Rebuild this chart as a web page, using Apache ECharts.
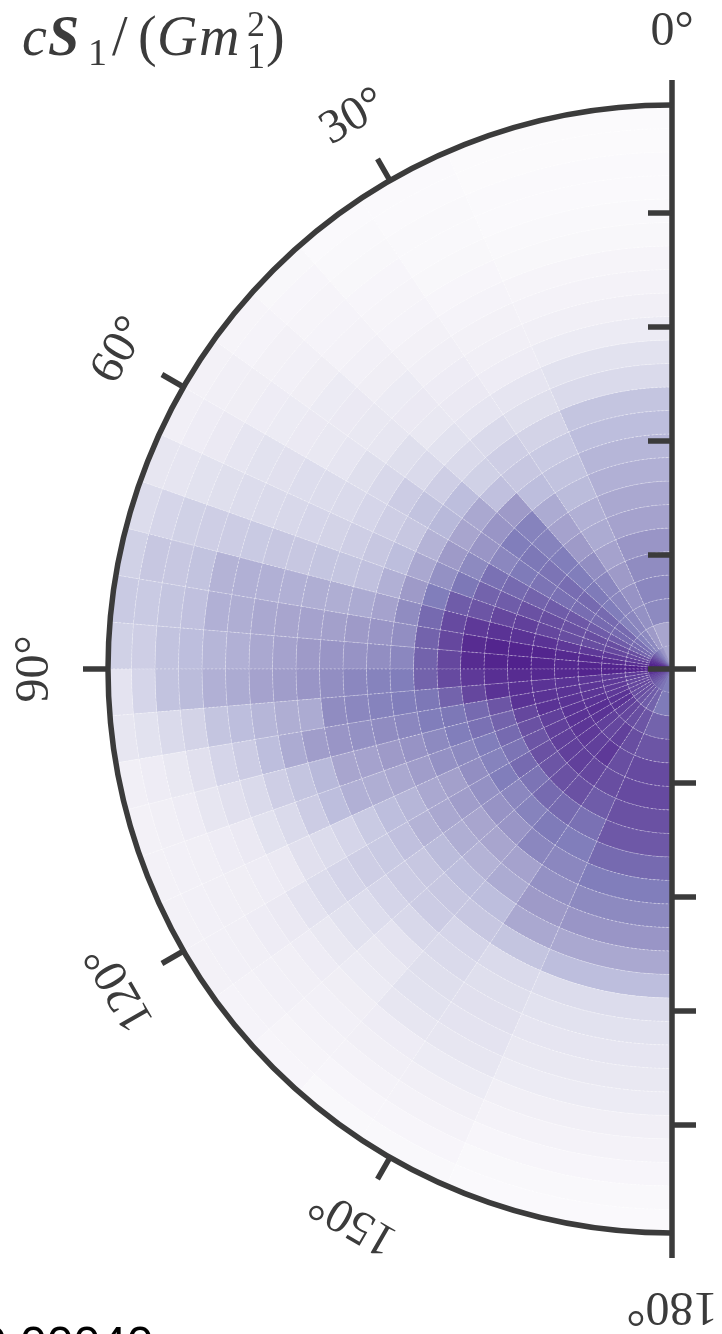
<!DOCTYPE html>
<html>
<head>
<meta charset="utf-8">
<style>html,body{margin:0;padding:0;background:#fff;overflow:hidden}#c{width:722px;height:1334px}</style>
<script src="https://cdn.jsdelivr.net/npm/echarts@6/dist/echarts.min.js"></script>
</head>
<body>
<div id="c"></div>
<script>
// polar angle bin edges, degrees
const angleEdges = [0,23.56,33.56,41.41,48.19,54.31,60,65.38,70.53,75.52,80.41,85.22,90,94.78,99.59,104.48,109.47,114.62,120,125.69,131.81,138.59,146.44,156.44,180];
const ringCount = 24;
const radiusMax = 4.95;
const angleTicks = [0,30,60,90,120,150,180];
const radiusTicks = [0,1,2,3,4];
const purples = ['#fcfbfd','#efedf5','#dadaeb','#bcbddc','#9e9ac8','#807dba','#6a51a3','#54278f','#3f007d'];
// one list per angular bin, inner ring first (colour-scale position 0..100)
const w00 = [45,46,57,58,56,52,47,45,42,40,37,34,25,20,14,11,8,6,4,3,2,2,1,1];
const w01 = [52,50,54,53,50,47,44,42,38,35,32,28,22,18,13,11,9,7,5,4,3,3,2,1.5];
const w02 = [60,57,58,58,58,55,50,47,44,37,33,30,25,18,15,13,11,9,7,6,5,4,3,2];
const w03 = [66,60,60,62,63,62,62,60,60,50,36,29,25,20,16,15,14,12,10,8,7,6,5,4];
const w04 = [70,66,68,68,68,67,65,64,62,52,45,37,30,25,22,17,16,15,14,12,10,9,7,6];
const w05 = [74,68,68,68,67,66,65,63,58,52,46,39,35,31,26,22,18,16,15,14,13,12,11,9];
const w06 = [78,70,72,72,73,72,70,68,66,57,50,41,33,30,27,25,24,23,21,20,18,15,13,11];
const w07 = [82,76,76,76,75,76,75,72,70,64,54,45,37,33,30,28,27,26,25,24,22,20,18,17];
const w08 = [85,78,78,76,76,78,80,78,74,72,62,50,42,36,34,34,33,33,32,31,30,29,27,24];
const w09 = [88,82,82,82,82,84,84,84,82,77,68,56,47,44,43,43,42,42,42,41,35,33,33,29];
const w10 = [90,85,86,87,87,88,88,88,86,78,70,55,52,50,48,47,46,45,43,42,36,34,32,32];
const w11 = [97,90,88,88,87,88,89,88,86,78,70,58,55,53,52,50,47,45,42,40,37,35,30,29];
const w12 = [90,88,88,88,87,87,86,85,82,77,70,62,60,58,55,52,49,47,44,42,38,35,27,19];
const w13 = [88,82,82,83,84,84,85,84,78,70,64,62,60,58,56,44,43,40,37,34,28,25,20,17];
const w14 = [84,80,82,83,84,84,84,74,68,64,62,58,56,54,52,49,44,37,31,27,21,16,13,11];
const w15 = [80,78,82,83,84,84,78,70,66,62,57,53,50,47,46,39,34,30,25,21,17,13,11,9];
const w16 = [78,78,82,84,84,80,75,68,62,57,54,49,45,43,42,37,31,25,20,15,13,11,10,9];
const w17 = [76,78,84,85,84,80,74,65,60,55,48,45,40,37,32,27,24,21,15,13,12,11,10,9];
const w18 = [74,76,84,84,83,80,75,68,62,54,49,45,41,36,32,30,27,24,19,15,13,11,10,9];
const w19 = [72,76,80,80,82,80,74,65,58,53,46,43,38,33,31,27,23,20,16,13,11,10,8,7];
const w20 = [70,74,78,78,80,80,75,68,60,52,46,41,37,33,31,26,19,16,14,12,10,8,6,5];
const w21 = [68,72,76,80,82,78,75,68,63,58,47,44,37,33,27,25,22,20,17,13,11,8,5,3];
const w22 = [65,70,74,76,76,76,72,66,62,58,54,50,45,34,25,22,21,19,17,14,11,8,5,3];
const w23 = [62,63,70,74,77,77,75,73,68,62,57,52,45,37,24,20,18,16,14,11,8,5,3,2];
const angularBins = [w00,w01,w02,w03,w04,w05,w06,w07,w08,w09,w10,w11,w12,w13,w14,w15,w16,w17,w18,w19,w20,w21,w22,w23];

const cells = [];
angularBins.forEach((row, a) => row.forEach((v, k) => {
  cells.push([angleEdges[a], angleEdges[a + 1], k, v]);
}));
const tickLabels = angleTicks.map(t => [t, t + '°']);

const ink = '#3b3b3b';
const serif = '"Liberation Serif","DejaVu Serif",serif';
const labelRadius = 637 / 564 * radiusMax;
const CENTER = [672, 669], RADIUS = 564;

function piece(text, x, base, size, style) {
  return { type: 'text', x: x, y: base - 0.31 * size, z: 20,
    style: { text: text, fill: ink, font: (style || '') + ' ' + size + 'px ' + serif, verticalAlign: 'middle', textAlign: 'left' } };
}

const chart = echarts.init(document.getElementById('c'), null, { renderer: 'canvas' });
const axisStyle = { color: ink, width: 5.5, cap: 'butt' };
chart.setOption({
  animation: false,
  backgroundColor: '#fff',
  polar: [{ center: CENTER, radius: RADIUS }, { center: CENTER, radius: RADIUS }],
  angleAxis: [{
    polarIndex: 0, type: 'value', min: 0, max: 180, interval: 30,
    startAngle: 90, endAngle: 270, clockwise: false, z: 6,
    axisLine: { show: true, lineStyle: axisStyle },
    axisTick: { show: true, length: 25, lineStyle: axisStyle },
    axisLabel: { show: false }, splitLine: { show: false }, minorTick: { show: false }
  }, {
    polarIndex: 1, type: 'value', min: 0, max: 180, interval: 30,
    startAngle: 270, endAngle: 450, clockwise: true, z: 6,
    axisLine: { show: false }, axisTick: { show: false }, axisLabel: { show: false }, splitLine: { show: false }
  }],
  radiusAxis: [{
    polarIndex: 0, type: 'value', min: 0, max: radiusMax, interval: 1, z: 6,
    axisLine: { show: true, lineStyle: axisStyle },
    axisTick: { show: true, length: 24, inside: true, customValues: radiusTicks, lineStyle: { color: ink, width: 5.5 } },
    axisLabel: { show: false }, splitLine: { show: false }
  }, {
    polarIndex: 1, type: 'value', min: 0, max: radiusMax, interval: 1, z: 6,
    axisLine: { show: true, lineStyle: axisStyle },
    axisTick: { show: true, length: 24, inside: false, customValues: radiusTicks, lineStyle: { color: ink, width: 5.5 } },
    axisLabel: { show: false }, splitLine: { show: false }
  }],
  visualMap: { show: false, type: 'continuous', seriesIndex: 0, dimension: 3, min: 0, max: 100, inRange: { color: purples } },
  series: [{
    type: 'custom', coordinateSystem: 'polar', polarIndex: 0, z: 2, silent: true,
    data: cells,
    renderItem: function (params, api) {
      const ringStep = radiusMax / ringCount, k = api.value(2);
      const c = api.coord([0, 0]);
      const a = api.coord([radiusMax, api.value(0)]);
      const b = api.coord([radiusMax, api.value(1)]);
      const inner = api.coord([k * ringStep, api.value(0)]);
      const outer = api.coord([(k + 1) * ringStep, api.value(0)]);
      const norm = p => { let t = Math.atan2(p[1] - c[1], p[0] - c[0]); return t < 0 ? t + 2 * Math.PI : t; };
      const color = api.visual('color');
      return {
        type: 'sector',
        shape: { cx: c[0], cy: c[1],
          r0: Math.hypot(inner[0] - c[0], inner[1] - c[1]),
          r: Math.hypot(outer[0] - c[0], outer[1] - c[1]),
          startAngle: norm(b), endAngle: norm(a), clockwise: true },
        style: { fill: color, stroke: k === 0 ? color : 'rgba(255,255,255,0.38)', lineWidth: 0.8, lineDash: k === 0 ? null : [2, 2] }
      };
    }
  }, {
    type: 'custom', coordinateSystem: 'polar', polarIndex: 0, z: 8, silent: true,
    data: tickLabels,
    renderItem: function (params, api) {
      const theta = api.value(0);
      const p = api.coord([labelRadius, theta]);
      return {
        type: 'text', x: p[0], y: p[1], rotation: theta * Math.PI / 180, originX: 0, originY: 0,
        style: { text: tickLabels[params.dataIndex][1], fill: ink, font: '48px ' + serif, textAlign: 'center', verticalAlign: 'middle' }
      };
    }
  }],
  graphic: [
    piece('c', 22, 58, 56, 'italic'),
    piece('S', 48, 58, 56, 'italic bold'),
    piece('1', 88, 67, 38),
    piece('/', 112, 58, 56),
    piece('(', 138, 58, 56),
    piece('G', 157, 58, 56, 'italic'),
    piece('m', 199, 58, 56, 'italic'),
    piece('2', 247, 38, 36),
    piece('1', 247, 70, 36),
    piece(')', 266, 58, 56),
    { type: 'text', x: -20, y: 1347, z: 20, style: { text: '0.00040', fill: '#000', font: '48px "Liberation Sans",Arial,sans-serif', verticalAlign: 'middle', textAlign: 'left' } }
  ]
});
</script>
</body>
</html>
